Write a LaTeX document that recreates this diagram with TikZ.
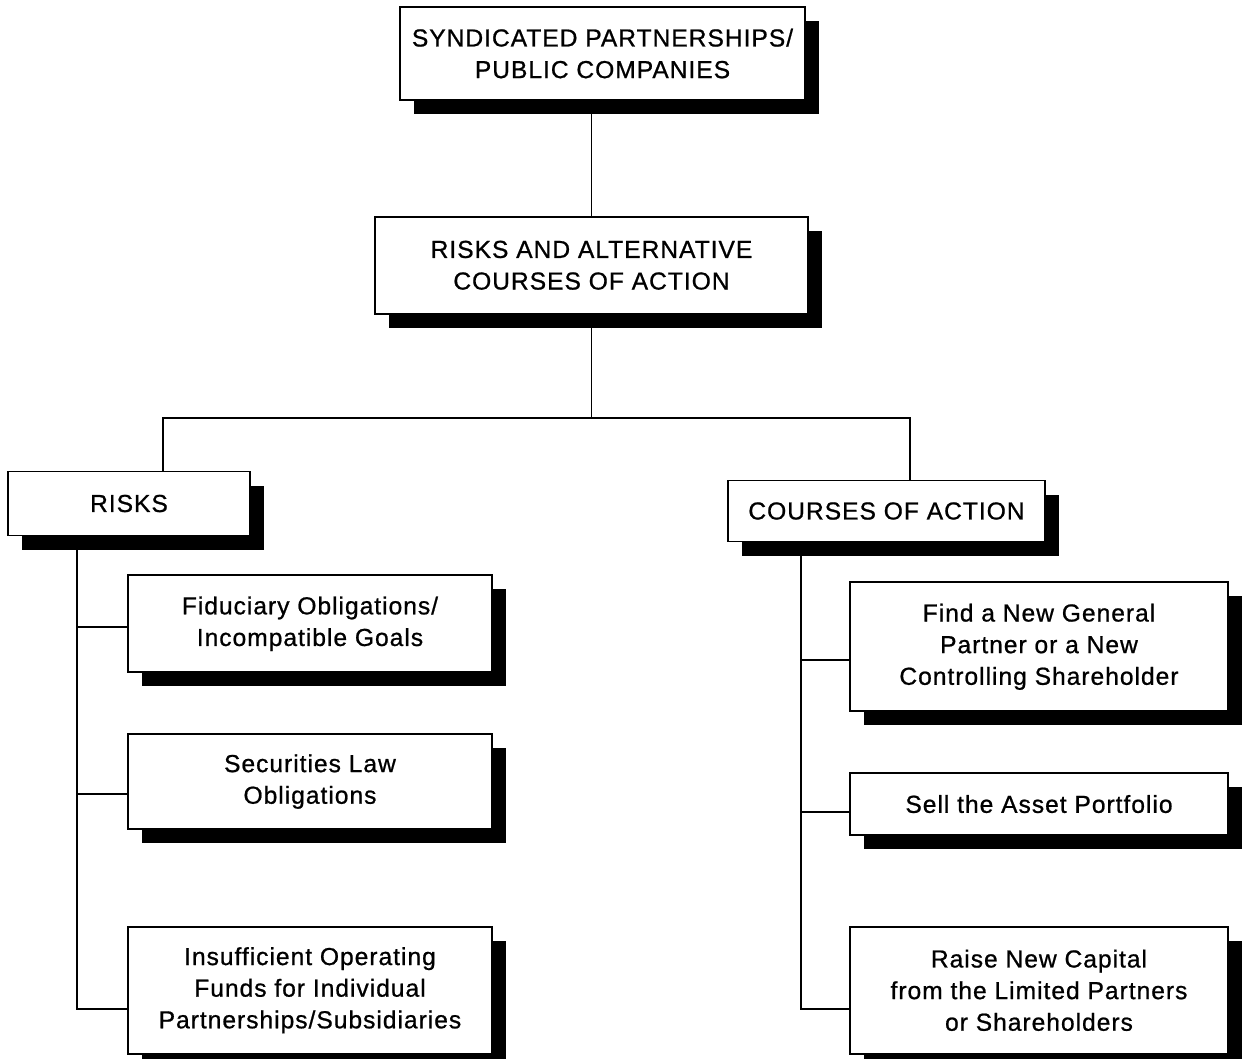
\documentclass[tikz,border=0pt]{standalone}
\usepackage{fontspec}
\setmainfont{Liberation Sans}
\newfontfamily\boxfont{Liberation Sans}[FakeBold=0.8, LetterSpace=4]
\usetikzlibrary{positioning,shadows}

\begin{document}
\begin{tikzpicture}[line width=1pt, node distance=1.2cm,
                    shadowbox/.style={rectangle, draw=black, fill=white, line width=1pt, inner sep=0pt,
                      align=center, font=\boxfont\fontsize{14}{18}\selectfont,
                      general shadow={fill=black, shadow xshift=0.28cm, shadow yshift=-0.28cm}}]
  \useasboundingbox (-12.05,1.07) rectangle (12.81,-20.09);

  \node[shadowbox, minimum width=8.1cm,  minimum height=1.86cm]                            (A) {SYNDICATED PARTNERSHIPS/\\PUBLIC COMPANIES};
  \node[shadowbox, minimum width=8.66cm, minimum height=1.94cm, below=2.3cm of A, xshift=-0.22cm] (B) {RISKS AND ALTERNATIVE\\COURSES OF ACTION};
  \node[shadowbox, minimum width=4.84cm, minimum height=1.28cm, below=3.12cm of B, xshift=-9.25cm] (C) {RISKS};
  \node[shadowbox, minimum width=6.34cm, minimum height=1.22cm, below=3.3cm of B, xshift=5.9cm]    (D) {COURSES OF ACTION};
  \node[shadowbox, minimum width=7.28cm, minimum height=1.94cm, below=0.76cm of C, xshift=3.62cm]  (E) {Fiduciary Obligations/\\Incompatible Goals};
  \node[shadowbox, minimum width=7.28cm, minimum height=1.9cm,  below=1.2cm of E]                  (F) {Securities Law\\Obligations};
  \node[shadowbox, minimum width=7.28cm, minimum height=2.54cm, below=1.92cm of F]                 (G) {Insufficient Operating\\Funds for Individual\\Partnerships/Subsidiaries};
  \node[shadowbox, minimum width=7.56cm, minimum height=2.58cm, below=0.78cm of D, xshift=3.05cm]  (H) {Find a New General\\Partner or a New\\Controlling Shareholder};
  \node[shadowbox, minimum width=7.56cm, minimum height=1.24cm, below=1.2cm of H]                  (I) {Sell the Asset Portfolio};
  \node[shadowbox, minimum width=7.56cm, minimum height=2.54cm, below=1.8cm of I]                  (J) {Raise New Capital\\from the Limited Partners\\or Shareholders};

  % tree connectors
  \draw (B.north) -- (B.north |- A.south);
  \draw (B.south) -- ++(0,-2.06) coordinate (bus);
  \draw ([xshift=0.68cm]C.north) |- (bus) -| ([xshift=0.47cm]D.north);

  % left branch
  \draw ([xshift=1.4cm]C.south west) |- ([yshift=-0.07cm]E.west);
  \draw ([xshift=1.4cm]C.south west) |- ([yshift=-0.25cm]F.west);
  \draw ([xshift=1.4cm]C.south west) |- ([yshift=-0.37cm]G.west);

  % right branch
  \draw ([xshift=1.48cm]D.south west) |- ([yshift=-0.27cm]H.west);
  \draw ([xshift=1.48cm]D.south west) |- ([yshift=-0.16cm]I.west);
  \draw ([xshift=1.48cm]D.south west) |- ([yshift=-0.37cm]J.west);
\end{tikzpicture}
\end{document}
